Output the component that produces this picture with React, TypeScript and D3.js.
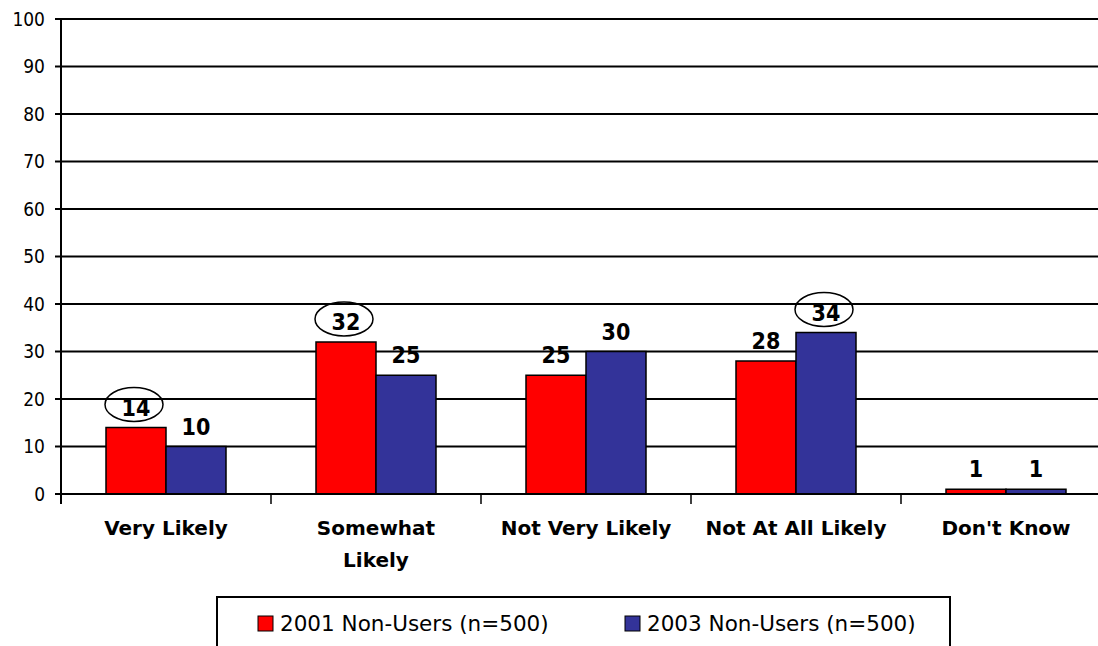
import React from "react";
import * as d3 from "d3";

const categories = ["Very Likely", "Somewhat\nLikely", "Not Very Likely", "Not At All Likely", "Don't Know"];
const seriesNames = ["2001 Non-Users (n=500)", "2003 Non-Users (n=500)"];
const values2001 = [14, 32, 25, 28, 1];
const values2003 = [10, 25, 30, 34, 1];
const circled2001 = [true, true, false, false, false];
const circled2003 = [false, false, false, true, false];
const yTicks = [0, 10, 20, 30, 40, 50, 60, 70, 80, 90, 100];
const colors = ["#FF0000", "#333399"];

const W = 1098;
const H = 646;
const left = 61;
const top = 19;
const bottom = 494;
const bandW = 210;

export default function App() {
  const x = d3.scaleBand<string>().domain(categories).range([left, left + bandW * categories.length]).padding(0);
  const inner = d3.scaleBand<string>().domain(seriesNames).range([45, 165]).padding(0);
  const y = d3.scaleLinear().domain([0, 100]).range([bottom, top]);
  const series = [
    { name: seriesNames[0], values: values2001, circled: circled2001, color: colors[0] },
    { name: seriesNames[1], values: values2003, circled: circled2003, color: colors[1] },
  ];
  const font = "'DejaVu Sans', Verdana, sans-serif";
  const cond = "'DejaVu Sans Condensed', 'DejaVu Sans', sans-serif";
  return (
    <svg width={W} height={H} style={{ position: "absolute", left: 0, top: 0, background: "#fff" }} fontFamily={font}>
      <rect x={0} y={0} width={W} height={H} fill="#fff" />
      {yTicks.filter((t) => t > 0).map((t) => (
        <line key={"g" + t} x1={left} x2={W} y1={y(t)} y2={y(t)} stroke="#000" strokeWidth={2} />
      ))}
      {series.map((s) =>
        categories.map((c, i) => (
          <rect
            key={s.name + c}
            x={(x(c) as number) + (inner(s.name) as number)}
            y={y(s.values[i])}
            width={inner.bandwidth()}
            height={bottom - y(s.values[i])}
            fill={s.color}
            stroke="#000"
            strokeWidth={1.5}
          />
        ))
      )}
      <line x1={left} x2={W} y1={bottom} y2={bottom} stroke="#000" strokeWidth={2} />
      <line x1={left} x2={left} y1={top} y2={bottom + 10} stroke="#000" strokeWidth={2} />
      {yTicks.map((t) => (
        <g key={"t" + t}>
          <line x1={left - 6} x2={left} y1={y(t)} y2={y(t)} stroke="#000" strokeWidth={2} />
          <text x={45} y={y(t)} dy="0.36em" textAnchor="end" fontSize={19} fontFamily={cond}>
            {t}
          </text>
        </g>
      ))}
      {categories.map((c) => (
        <line key={"xt" + c} x1={(x(c) as number) + bandW} x2={(x(c) as number) + bandW} y1={bottom} y2={bottom + 10} stroke="#000" strokeWidth={1.5} />
      ))}
      {categories.map((c) => {
        const lines = c.split("\n");
        const cx = (x(c) as number) + bandW / 2;
        return (
          <text key={"c" + c} x={cx} y={535} textAnchor="middle" fontSize={20} fontWeight="bold">
            {lines.map((l, k) => (
              <tspan key={k} x={cx} dy={k === 0 ? 0 : 32}>
                {l}
              </tspan>
            ))}
          </text>
        );
      })}
      {series.map((s) =>
        categories.map((c, i) => {
          const cx = (x(c) as number) + (inner(s.name) as number) + inner.bandwidth() / 2;
          const base = y(s.values[i]) - 12;
          return (
            <g key={"l" + s.name + c}>
              <text x={cx} y={base} textAnchor="middle" fontSize={23} fontWeight="bold" fontFamily={cond}>
                {s.values[i]}
              </text>
              {s.circled[i] && (
                <ellipse cx={cx - 2} cy={base - 11} rx={29} ry={17} fill="none" stroke="#000" strokeWidth={1.5} />
              )}
            </g>
          );
        })
      )}
      <rect x={217} y={597} width={733} height={70} fill="#fff" stroke="#000" strokeWidth={2} />
      {series.map((s, k) => {
        const lx = k === 0 ? 258 : 625;
        return (
          <g key={"leg" + s.name}>
            <rect x={lx} y={616} width={15} height={15} fill={s.color} stroke="#000" strokeWidth={1} />
            <text x={lx + 22} y={631} fontSize={21.5}>
              {s.name}
            </text>
          </g>
        );
      })}
    </svg>
  );
}
